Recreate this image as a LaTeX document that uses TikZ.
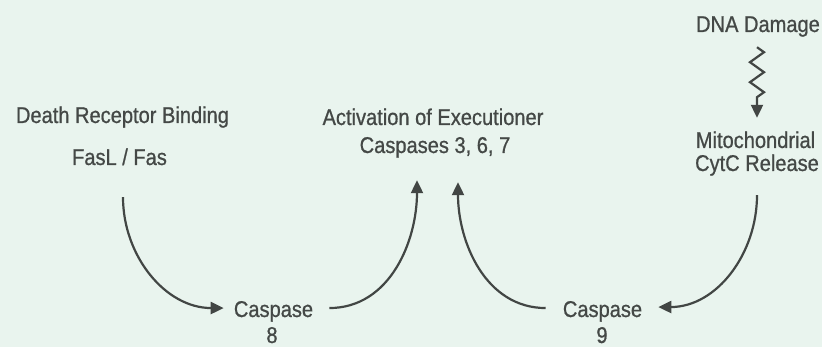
\documentclass[tikz,border=0pt]{standalone}
\usepackage{fontspec}
\newfontfamily\labfont[FakeStretch=0.88,FakeBold=0.8]{Liberation Sans}
\usetikzlibrary{arrows.meta,decorations.pathmorphing}
\definecolor{bgmint}{RGB}{233,244,238}
\definecolor{inkgray}{RGB}{68,72,70}
\definecolor{linegray}{RGB}{66,70,68}
\begin{document}
\begin{tikzpicture}[x=1pt,y=1pt,
  lbl/.style={font=\labfont\fontsize{22.8}{24}\selectfont, text=inkgray, inner sep=0pt, anchor=base, text height=15.5pt, text depth=4pt},
  arr/.style={draw=linegray, line width=2.2pt, -{Triangle[length=13pt,width=12pt]}}]
\fill[bgmint] (0,0) rectangle (822,-347);
\useasboundingbox (0,0) rectangle (822,-347);

\node[lbl] (dr)   at (122.5,-123) {Death Receptor Binding};
\node[lbl] (fas)  at (119.5,-165) {FasL / Fas};
\node[lbl] (act)  at (433,-125) {Activation of Executioner};
\node[lbl] (casp) at (435,-153) {Caspases 3, 6, 7};
\node[lbl] (dna)  at (758,-32) {DNA Damage};
\node[lbl] (mito) at (755.5,-148) {Mitochondrial};
\node[lbl] (cytc) at (757,-171) {CytC Release};
\node[lbl] (c8)   at (273.5,-317) {Caspase};
\node[lbl] (c8n)  at (272,-343) {8};
\node[lbl] (c9)   at (602.5,-317) {Caspase};
\node[lbl] (c9n)  at (602,-343) {9};

\draw[arr] ([shift={(3.5,-28)}]fas.south) to[out=270,in=180] ([shift={(-10,3.2)}]c8.west);
\draw[arr] ([shift={(16,3.2)}]c8.east) to[out=0,in=270] ([shift={(-18,-23)}]casp.south);
\draw[arr] ([shift={(-17,3.2)}]c9.west) to[out=180,in=270] ([shift={(23,-25)}]casp.south);
\draw[arr] ([shift={(0,-20)}]cytc.south) to[out=270,in=0] ([shift={(16,4.2)}]c9.east);
\draw[arr, decorate, decoration={zigzag, amplitude=7pt, segment length=20pt, post length=18pt}]
  ([shift={(-1,-11)}]dna.south) -- ([shift={(1.5,14.5)}]mito.north);
\end{tikzpicture}
\end{document}
